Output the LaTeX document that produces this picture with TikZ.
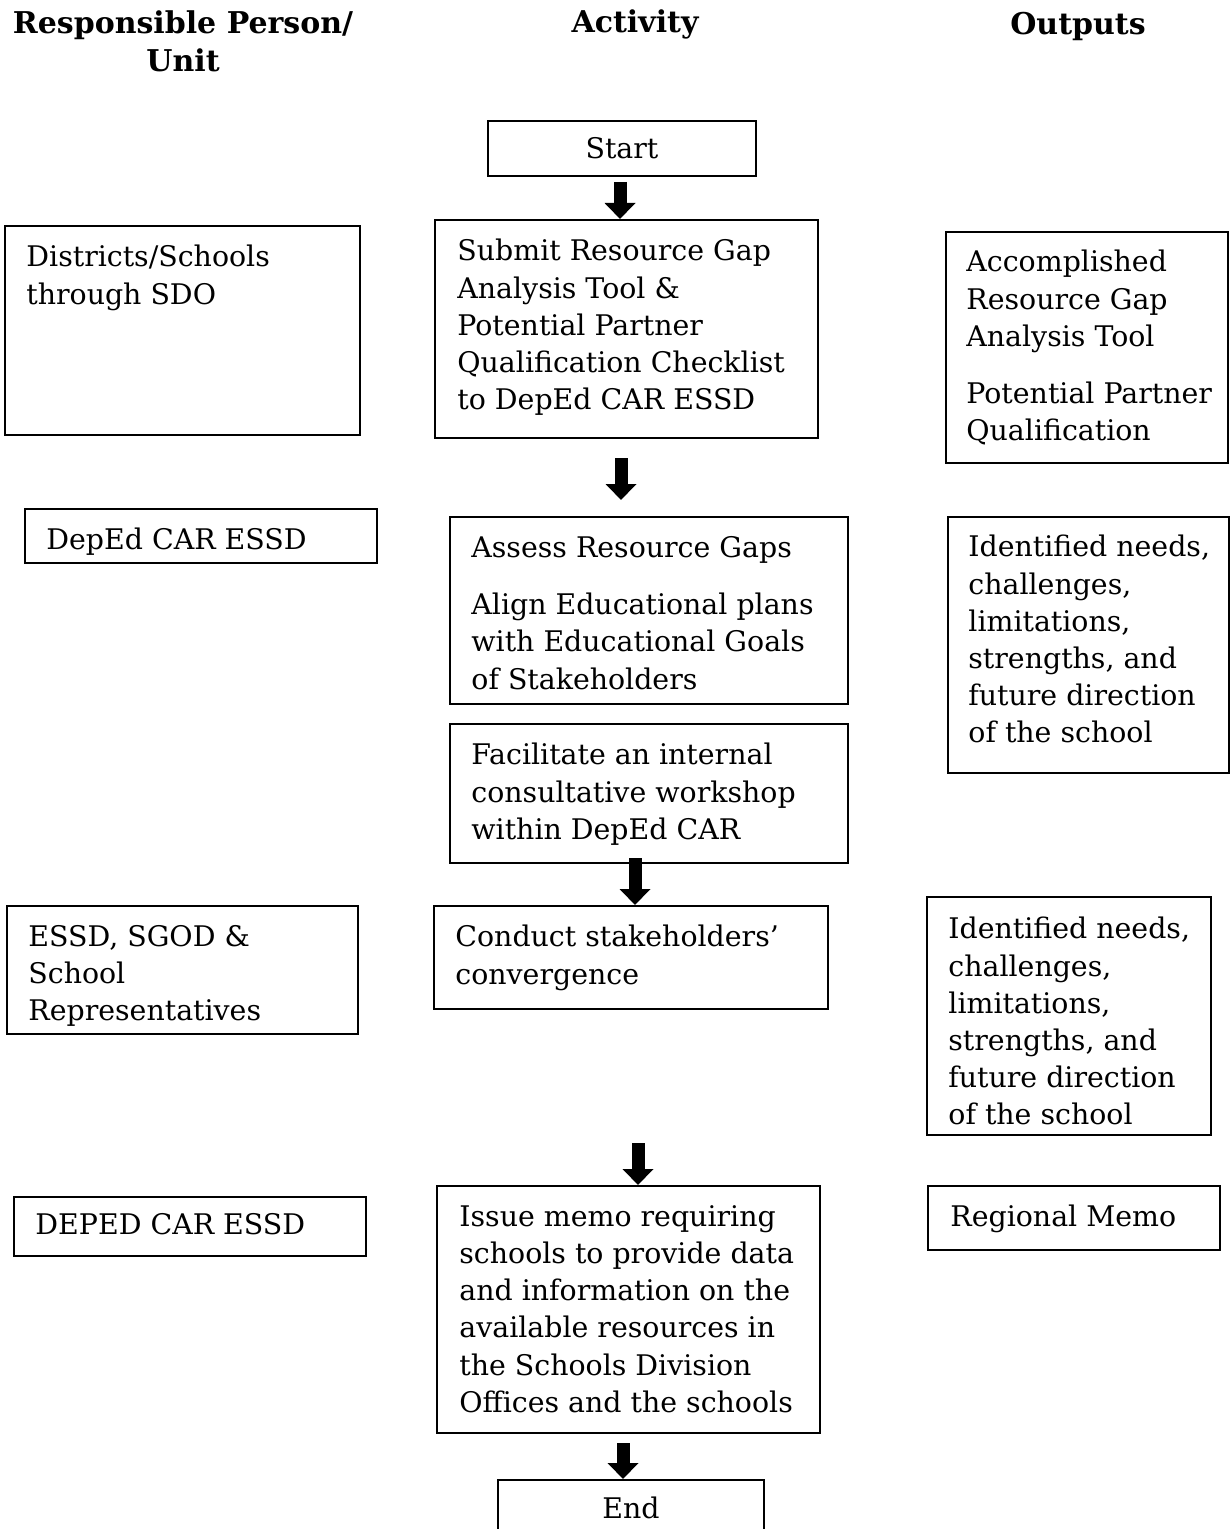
\documentclass[tikz,border=0pt]{standalone}
\usepackage{fontspec}
\setmainfont{DejaVu Serif}
\usetikzlibrary{arrows.meta, fit}

\begin{document}
\begin{tikzpicture}[x=0.5pt, y=-0.5pt,
  box/.style={draw, line width=1pt, inner sep=0pt},
  txt/.style={anchor=north west, inner sep=0pt, align=left, font=\fontsize{14.2}{18.6}\selectfont},
  head/.style={inner sep=0pt, align=center, font=\fontsize{15}{19}\selectfont\bfseries},
  bigarrow/.style={line width=6.5pt, -{Triangle[width=15pt, length=8pt]}}]
  \useasboundingbox (0,0) rectangle (1230,1529);

  \node[head] (h-unit) at (183,41) {Responsible Person/\\Unit};
  \node[head] (h-act) at (635,24) {Activity};
  \node[head] (h-out) at (1078,26) {Outputs};

  \node[box, fit={(488,121) (756,176)}] (start) {};
  \node[txt, anchor=center] (start-t) at (start.center) {Start};

  \node[box, fit={(5,226) (360,435)}] (districts) {};
  \node[txt] (districts-t) at (26,245) {Districts/Schools\\through SDO};
  \node[box, fit={(435,220) (818,438)}] (submit) {};
  \node[txt] (submit-t) at (457,239) {Submit Resource Gap\\Analysis Tool \&\\Potential Partner\\Qualification Checklist\\to DepEd CAR ESSD};
  \node[box, fit={(946,232) (1228,463)}] (accomplished) {};
  \node[txt] (accomplished-t) at (966,250) {Accomplished\\Resource Gap\\Analysis Tool\\[10pt]Potential Partner\\Qualification};

  \node[box, fit={(25,509) (377,563)}] (essd1) {};
  \node[txt] (essd1-t) at (46,528) {DepEd CAR ESSD};
  \node[box, fit={(450,517) (848,704)}] (assess) {};
  \node[txt] (assess-t) at (471,536) {Assess Resource Gaps\\[10pt]Align Educational plans\\with Educational Goals\\of Stakeholders};
  \node[box, fit={(948,517) (1229,773)}] (needs1) {};
  \node[txt] (needs1-t) at (968,535) {Identified needs,\\challenges,\\limitations,\\strengths, and\\future direction\\of the school};

  \node[box, fit={(450,724) (848,863)}] (workshop) {};
  \node[txt] (workshop-t) at (471,743) {Facilitate an internal\\consultative workshop\\within DepEd CAR};

  \node[box, fit={(7,906) (358,1034)}] (reps) {};
  \node[txt] (reps-t) at (28,925) {ESSD, SGOD \&\\School\\Representatives};
  \node[box, fit={(434,906) (828,1009)}] (conduct) {};
  \node[txt] (conduct-t) at (455,925) {Conduct stakeholders'\\convergence};
  \node[box, fit={(927,897) (1211,1135)}] (needs2) {};
  \node[txt] (needs2-t) at (948,917) {Identified needs,\\challenges,\\limitations,\\strengths, and\\future direction\\of the school};

  \node[box, fit={(14,1197) (366,1256)}] (essd2) {};
  \node[txt] (essd2-t) at (35,1213) {DEPED CAR ESSD};
  \node[box, fit={(437,1186) (820,1433)}] (issue) {};
  \node[txt] (issue-t) at (459,1205) {Issue memo requiring\\schools to provide data\\and information on the\\available resources in\\the Schools Division\\Offices and the schools};
  \node[box, fit={(928,1186) (1220,1250)}] (memo) {};
  \node[txt] (memo-t) at (950,1205) {Regional Memo};

  \node[box, fit={(498,1480) (764,1545)}] (theend) {};
  \node[txt, anchor=center] (theend-t) at (631,1508) {End};

  \coordinate (a1) at (620,182);
  \coordinate (a2) at (621,458);
  \coordinate (a3) at (635,858);
  \coordinate (a4) at (638,1143);
  \coordinate (a5) at (623,1443);
  \draw[bigarrow] (a1) -- (a1 |- submit.north);
  \draw[bigarrow] (a2) -- ([yshift=8pt]a2 |- assess.north);
  \draw[bigarrow] (a3) -- (a3 |- conduct.north);
  \draw[bigarrow] (a4) -- (a4 |- issue.north);
  \draw[bigarrow] (a5) -- (a5 |- theend.north);
\end{tikzpicture}
\end{document}
